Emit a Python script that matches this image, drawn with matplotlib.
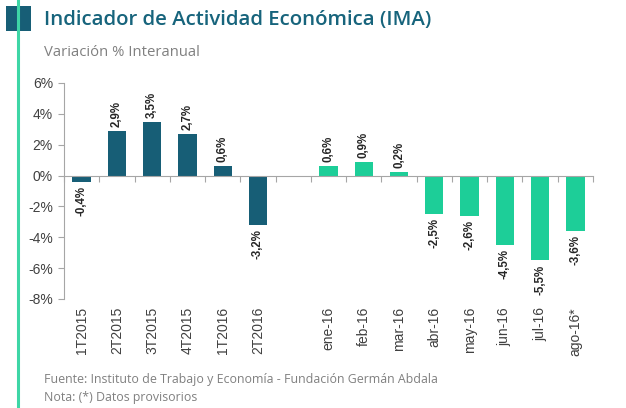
import matplotlib
matplotlib.use("Agg")
import matplotlib.pyplot as plt
import matplotlib.transforms as mtransforms
from matplotlib.patches import Rectangle
from matplotlib.lines import Line2D
from matplotlib import font_manager as fm

categories = ["1T2015", "2T2015", "3T2015", "4T2015", "1T2016", "2T2016", "",
              "ene-16", "feb-16", "mar-16", "abr-16", "may-16", "jun-16", "jul-16", "ago-16*"]
values = [-0.4, 2.9, 3.5, 2.7, 0.6, -3.2, None,
          0.6, 0.9, 0.2, -2.5, -2.6, -4.5, -5.5, -3.6]
labels = ["-0,4%", "2,9%", "3,5%", "2,7%", "0,6%", "-3,2%", "",
          "0,6%", "0,9%", "0,2%", "-2,5%", "-2,6%", "-4,5%", "-5,5%", "-3,6%"]
kinds = ["q"] * 6 + [""] + ["m"] * 8
yticks = [-8, -6, -4, -2, 0, 2, 4, 6]
ytick_labels = ["-8%", "-6%", "-4%", "-2%", "0%", "2%", "4%", "6%"]

DARK = "#175E76"
GREEN = "#1DCE98"
W, H = 626, 408

fp_tick = fm.FontProperties(family="Liberation Sans", weight="normal", size=10)
fp_val = fm.FontProperties(family="Liberation Sans", weight="bold", size=8.3)

fig = plt.figure(figsize=(W / 100, H / 100), dpi=100)
fig.patch.set_facecolor("white")

# decorations
fig.add_artist(Line2D([18 / W, 18 / W], [0, 1], color="#3ED6A6", lw=2.2, transform=fig.transFigure))
fig.add_artist(Rectangle((6 / W, 1 - 31 / H), 25 / W, 25 / H, transform=fig.transFigure,
                         facecolor=DARK, edgecolor="none"))
fig.text(44 / W, 1 - 20 / H, "Indicador de Actividad Económica (IMA)", fontsize=14.7,
         family="Open Sans", color="#17647C", va="center", ha="left", weight="semibold")
fig.text(44 / W, 1 - 52 / H, "Variación % Interanual", fontsize=10.7, family="Open Sans",
         color="#808080", va="center", ha="left")
fig.text(44 / W, 1 - 379 / H, "Fuente: Instituto de Trabajo y Economía - Fundación Germán Abdala",
         fontsize=8.9, family="Open Sans", color="#808080", va="center", ha="left")
fig.text(44 / W, 1 - 398 / H, "Nota: (*) Datos provisorios",
         fontsize=8.9, family="Open Sans", color="#808080", va="center", ha="left")

ax = fig.add_axes([64 / W, (H - 299) / H, (593 - 64) / W, (299 - 83) / H])
ax.set_facecolor("white")
n = len(categories)
xs = list(range(n))
for x, v, k, lab in zip(xs, values, kinds, labels):
    if v is None:
        continue
    ax.bar(x, v, width=0.52, color=DARK if k == "q" else GREEN, zorder=2)
    off = mtransforms.offset_copy(ax.transData, fig=fig, x=0, y=(4 if v >= 0 else -4), units="dots")
    ax.text(x, v, lab, rotation=90, ha="center", va="bottom" if v >= 0 else "top",
            fontproperties=fp_val, color="#262626", transform=off)

ax.set_xlim(-0.5, n - 0.5)
ax.set_ylim(-8, 6)
ax.set_yticks(yticks)
ax.set_yticklabels(ytick_labels, fontproperties=fp_tick, color="#404040")
ax.tick_params(axis="y", direction="out", length=4, color="#A6A6A6", width=0.8, pad=4)

for s in ["top", "right"]:
    ax.spines[s].set_visible(False)
ax.spines["left"].set_color("#A6A6A6")
ax.spines["left"].set_linewidth(0.8)
ax.spines["bottom"].set_position(("data", 0))
ax.spines["bottom"].set_color("#A6A6A6")
ax.spines["bottom"].set_linewidth(0.8)
ax.spines["bottom"].set_zorder(3)

ax.set_xticks(xs)
ax.set_xticklabels([])
ax.tick_params(axis="x", which="major", length=0)
ax.set_xticks([i + 0.5 for i in range(-1, n)], minor=True)
ax.tick_params(axis="x", which="minor", direction="out", length=4, color="#A6A6A6", width=0.8)

lab_tr = mtransforms.offset_copy(mtransforms.blended_transform_factory(ax.transData, ax.transAxes),
                                 fig=fig, x=0, y=-8, units="dots")
for x, c in zip(xs, categories):
    ax.text(x, 0, c, rotation=90, ha="center", va="top", fontproperties=fp_tick,
            color="#404040", transform=lab_tr)

fig.savefig("out.png", dpi=100, facecolor="white")
